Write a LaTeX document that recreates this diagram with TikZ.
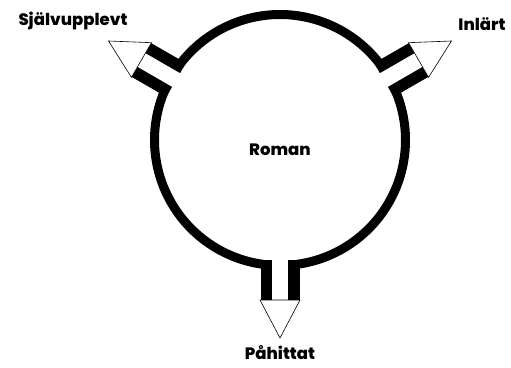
\documentclass[tikz,border=0pt]{standalone}
\usepackage{fontspec}
\setmainfont{Poppins}[BoldFont={Poppins ExtraBold}]
\usetikzlibrary{positioning}

\begin{document}
\begin{tikzpicture}[
    x=1pt, y=1pt,
    ring/.style={line width=9pt, black},
    portbar/.style={fill=black, draw=none},
    porttip/.style={draw=black, fill=white, line width=0.6pt, line join=miter},
    lbl/.style={font=\bfseries\fontsize{16.5}{18}\selectfont, inner sep=0pt},
]

% =====================================================
% Canvas (reference proportions)
% =====================================================
\useasboundingbox (-280,-227) rectangle (231,140);

% =====================================================
% Ring with three openings
% =====================================================
\draw[ring] (36:125.5) arc[start angle=36, end angle=144, radius=125.5];
\draw[ring] (156:125.5) arc[start angle=156, end angle=264, radius=125.5];
\draw[ring] (276:125.5) arc[start angle=276, end angle=384, radius=125.5];

% =====================================================
% Ports: two bars and an open arrow tip each
% =====================================================
\foreach \ang in {30,150,270}{
  \begin{scope}[rotate=\ang]
    \fill[portbar] (120,8) rectangle (160,19.5);
    \fill[portbar] (120,-8) rectangle (160,-19.5);
    \draw[porttip] (160,20) -- (198,0) -- (160,-20) -- cycle;
  \end{scope}
}

% =====================================================
% Labels
% =====================================================
\node[lbl] (roman) at (0,-10) {Roman};
\node[lbl] (sjalv) at (-207,119) {Självupplevt};
\node[lbl] (inlart) at (202,116) {Inlärt};
\node[lbl] (pahitt) at (0,-213) {Påhittat};

\end{tikzpicture}
\end{document}
